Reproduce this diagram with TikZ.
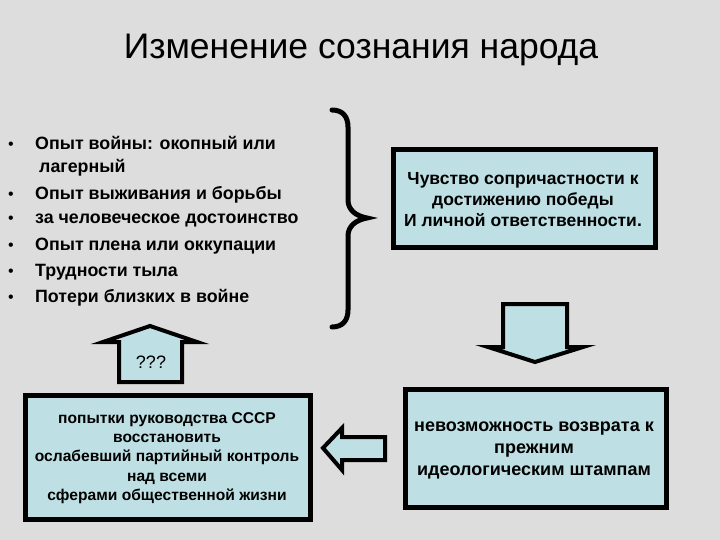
\documentclass[tikz,border=0pt]{standalone}
\usepackage{fontspec}
\setmainfont{Liberation Sans}
\definecolor{bg}{RGB}{221,221,221}
\definecolor{boxfill}{RGB}{190,224,228}
\tikzset{
  box/.style={draw=black, line width=5pt, fill=boxfill},
  blockarrow/.style={draw=black, line width=4pt, fill=boxfill, line join=miter},
  item/.style={anchor=west, inner sep=0pt, font=\fontsize{17.8}{20}\selectfont\bfseries},
  dot/.style={anchor=base, inner sep=0pt, font=\fontsize{16}{18}\selectfont},
  boxtext/.style={align=center, inner sep=0pt},
}
\begin{document}
\begin{tikzpicture}[x=1pt,y=-1pt]
\fill[bg] (0,0) rectangle (720,540);
\useasboundingbox (0,0) rectangle (720,540);

% title
\node[inner sep=0pt, font=\fontsize{35.5}{38}\selectfont] (title) at (361,50) {Изменение сознания народа};

% bullet list
\node[item] (t1) at (35,143) {Опыт войны: окопный  или};
\node[item] (t1b) at (39,168) {лагерный};
\node[item] (t2) at (35,195) {Опыт выживания и борьбы};
\node[item] (t3) at (35,220) {за человеческое достоинство};
\node[item] (t4) at (35,246) {Опыт плена или оккупации};
\node[item] (t5) at (35,272) {Трудности тыла};
\node[item] (t6) at (35,298) {Потери близких в войне};
\foreach \t/\b in {t1/b1,t2/b2,t3/b3,t4/b4,t5/b5,t6/b6}
  \node[dot] (\b) at (11,0 |- \t.base) {•};

% brace
\draw[line width=5pt, line cap=round] (332,110) .. controls (343,110) and (348,117) .. (348,127)
  -- (348,200) .. controls (348,210) and (356,216) .. (367,218)
  .. controls (356,220) and (348,226) .. (348,236)
  -- (348,310) .. controls (348,320) and (343,327) .. (332,327);

% box 1
\draw[box] (393,150) rectangle (655,247);
\node[boxtext, font=\fontsize{17.5}{21}\selectfont\bfseries] (feel) at (523,200)
  {Чувство сопричастности к\\достижению победы\\И личной ответственности.};

% down arrow
\draw[blockarrow] (503,304) -- (567,304) -- (567,347) -- (583,347) -- (535,362) -- (488,347) -- (503,347) -- cycle;

% box bottom right
\draw[box] (405,389) rectangle (666,507);
\node[boxtext, font=\fontsize{18}{22}\selectfont\bfseries] (imp) at (534,450)
  {невозможность возврата к\\прежним\\идеологическим штампам};

% left arrow
\draw[blockarrow] (323,448) -- (342,428) -- (342,437) -- (385,437) -- (385,460) -- (342,460) -- (342,470) -- cycle;

% box bottom left
\draw[box] (25,395) rectangle (310,519);
\node[boxtext, font=\fontsize{15.6}{19.2}\selectfont\bfseries] (try) at (167,458)
  {попытки руководства СССР\\восстановить\\ослабевший партийный контроль\\над всеми\\сферами общественной жизни};

% up arrow
\draw[blockarrow] (119,382) -- (119,342) -- (103,342) -- (150,326) -- (197,342) -- (182,342) -- (182,382) -- cycle;
\node[inner sep=0pt, font=\fontsize{18}{20}\selectfont] (q) at (151,362) {???};
\end{tikzpicture}
\end{document}
